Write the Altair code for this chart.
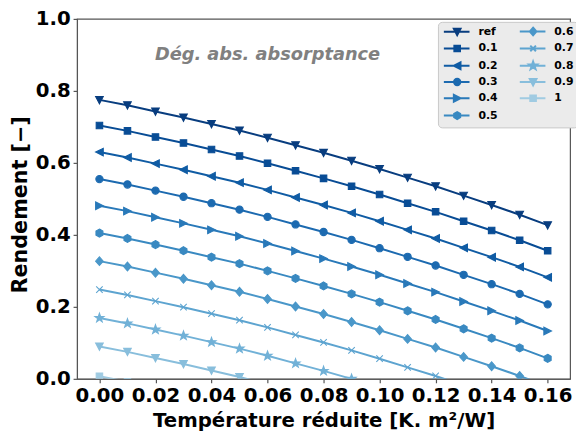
import altair as alt
import pandas as pd
import math

temp = [0.00, 0.01, 0.02, 0.03, 0.04, 0.05, 0.06, 0.07, 0.08, 0.09, 0.10, 0.11, 0.12, 0.13, 0.14, 0.15, 0.16]
series_names = ["ref", "0.1", "0.2", "0.3", "0.4", "0.5", "0.6", "0.7", "0.8", "0.9", "1"]

eta_ref = [0.775, 0.760, 0.743, 0.726, 0.708, 0.690, 0.670, 0.649, 0.628, 0.606, 0.583, 0.559, 0.535, 0.509, 0.483, 0.456, 0.427]
eta_01 = [0.704, 0.689, 0.672, 0.655, 0.637, 0.619, 0.599, 0.578, 0.557, 0.535, 0.512, 0.488, 0.464, 0.438, 0.412, 0.385, 0.356]
eta_02 = [0.630, 0.615, 0.598, 0.581, 0.563, 0.545, 0.525, 0.504, 0.483, 0.461, 0.438, 0.414, 0.390, 0.364, 0.338, 0.311, 0.282]
eta_03 = [0.555, 0.540, 0.523, 0.506, 0.488, 0.470, 0.450, 0.429, 0.408, 0.386, 0.363, 0.339, 0.315, 0.289, 0.263, 0.236, 0.207]
eta_04 = [0.481, 0.466, 0.449, 0.432, 0.414, 0.396, 0.376, 0.355, 0.334, 0.312, 0.289, 0.265, 0.241, 0.215, 0.189, 0.162, 0.133]
eta_05 = [0.405, 0.390, 0.373, 0.356, 0.338, 0.320, 0.300, 0.279, 0.258, 0.236, 0.213, 0.189, 0.165, 0.139, 0.113, 0.086, 0.057]
eta_06 = [0.327, 0.312, 0.295, 0.278, 0.260, 0.242, 0.222, 0.201, 0.180, 0.158, 0.135, 0.111, 0.087, 0.061, 0.035, 0.008, -0.021]
eta_07 = [0.248, 0.233, 0.216, 0.199, 0.181, 0.163, 0.143, 0.122, 0.101, 0.079, 0.056, 0.032, 0.008, -0.018, -0.044, -0.071, -0.100]
eta_08 = [0.169, 0.154, 0.137, 0.120, 0.102, 0.084, 0.064, 0.043, 0.022, 0.000, -0.023, -0.047, -0.071, -0.097, -0.123, -0.150, -0.179]
eta_09 = [0.090, 0.075, 0.058, 0.041, 0.023, 0.005, -0.015, -0.036, -0.057, -0.079, -0.102, -0.126, -0.150, -0.176, -0.202, -0.229, -0.258]
eta_10 = [0.007, -0.008, -0.025, -0.042, -0.060, -0.078, -0.098, -0.119, -0.140, -0.162, -0.185, -0.209, -0.233, -0.259, -0.285, -0.312, -0.341]

all_series = [eta_ref, eta_01, eta_02, eta_03, eta_04, eta_05, eta_06, eta_07, eta_08, eta_09, eta_10]

colors = ["#083d7f", "#084c95", "#105ca4", "#1c6ab0", "#2979b9", "#3989c1",
          "#4a97c9", "#5da4d0", "#71b1d7", "#88bedc", "#a0cbe2"]

x_ticks = [0.00, 0.02, 0.04, 0.06, 0.08, 0.10, 0.12, 0.14, 0.16]
y_ticks = [0.0, 0.2, 0.4, 0.6, 0.8, 1.0]

ann_text = ["Dég. abs. absorptance"]
ann_x = [0.06]
ann_y = [0.90]

rows = []
for name, vals in zip(series_names, all_series):
    for i, (t, v) in enumerate(zip(temp, vals)):
        rows.append({"series": name, "T": t, "eta": v, "idx": i})
df = pd.DataFrame(rows)
ann_df = pd.DataFrame({"text": ann_text, "x": ann_x, "y": ann_y})

# ---- marker geometry (unit coordinates) ----
def poly(points, dx=0.0, s=1.0):
    return "M" + "L".join(f"{x * s + dx:.3f},{y * s:.3f}" for x, y in points) + "Z"

def circle(dx=0.0, r=1.0):
    return f"M{dx - r:.3f},0A{r:.3f},{r:.3f},0,1,0,{dx + r:.3f},0A{r:.3f},{r:.3f},0,1,0,{dx - r:.3f},0Z"

def xmark(dx=0.0, r=1.0):
    return f"M{dx - r:.3f},{-r:.3f}L{dx + r:.3f},{r:.3f}M{dx - r:.3f},{r:.3f}L{dx + r:.3f},{-r:.3f}"

star_pts = []
for k in range(10):
    ang = -math.pi / 2 + k * math.pi / 5
    rad = 1.25 if k % 2 == 0 else 0.5
    star_pts.append((rad * math.cos(ang), rad * math.sin(ang)))

tri_down = [(-1.0, -0.9), (1.0, -0.9), (0.0, 1.0)]
square = [(-0.85, -0.85), (0.85, -0.85), (0.85, 0.85), (-0.85, 0.85)]
tri_left = [(1.0, -1.0), (1.0, 1.0), (-1.0, 0.0)]
tri_right = [(-1.0, -1.0), (-1.0, 1.0), (1.0, 0.0)]
hexagon = [(0, -1.05), (0.91, -0.525), (0.91, 0.525), (0, 1.05), (-0.91, 0.525), (-0.91, -0.525)]
diamond = [(0, -1.15), (1.0, 0), (0, 1.15), (-1.0, 0)]

def marker_path(kind, dx=0.0, s=1.0):
    if kind == "circle":
        return circle(dx, 0.95 * s)
    if kind == "x":
        return xmark(dx, 0.85 * s)
    geo = {"tri_down": tri_down, "square": square, "tri_left": tri_left,
           "tri_right": tri_right, "hexagon": hexagon, "diamond": diamond,
           "star": star_pts}[kind]
    return poly(geo, dx, s)

kinds = ["tri_down", "square", "tri_left", "circle", "tri_right", "hexagon",
         "diamond", "x", "star", "tri_down", "square"]

plot_shapes = [marker_path(k) for k in kinds]
legend_shapes = ["M-1.4,0L9,0" + marker_path(k, dx=4.0, s=1.35) for k in kinds]

names_arr = "[" + ",".join(f"'{n}'" for n in series_names) + "]"
shape_expr = "[" + ",".join(f"'{p}'" for p in legend_shapes) + "][indexof(" + names_arr + ", datum.value)]"

FONT = "DejaVu Sans"

leg = alt.Legend(
    title=None, orient="none", legendX=366, legendY=3, columns=2,
    symbolSize=25, symbolStrokeWidth=2, labelFont=FONT, labelFontWeight="bold",
    labelFontSize=11, labelColor="black", labelOffset=26, columnPadding=18,
    rowPadding=1.5, fillColor="#ebebeb", strokeColor="#c8c8c8", cornerRadius=4,
    padding=4, symbolOpacity=1,
    symbolType=alt.ExprRef(expr=shape_expr),
)

cscale = alt.Scale(domain=series_names, range=colors)
# shape scale listed in reverse order so its (hidden) legend is not merged with the colour legend
shape_scale = alt.Scale(domain=series_names[::-1], range=plot_shapes[::-1])
xscale = alt.Scale(domain=[-0.008, 0.168], nice=False, zero=False)
yscale = alt.Scale(domain=[0, 1], nice=False)

x_enc = alt.X("T:Q", scale=xscale,
              axis=alt.Axis(values=x_ticks, format=".2f", title="Température réduite [K. m²/W]",
                            labelFlush=False, titleFontSize=20))
y_enc = alt.Y("eta:Q", scale=yscale,
              axis=alt.Axis(values=y_ticks, format=".1f", title="Rendement [−]",
                            titleFontSize=21, titleY=188))

base = alt.Chart(df)

lines = base.mark_line(clip=True, strokeWidth=2).encode(
    x=x_enc, y=y_enc,
    color=alt.Color("series:N", scale=cscale, legend=leg, sort=series_names),
    order="idx:Q",
)

points = base.mark_point(filled=True, clip=True, size=60, strokeWidth=1.1, opacity=1).encode(
    x="T:Q", y="eta:Q",
    color=alt.Color("series:N", scale=cscale, legend=leg, sort=series_names),
    shape=alt.Shape("series:N", scale=shape_scale, legend=None),
    stroke=alt.Stroke("series:N", scale=cscale, legend=leg),
)

ann = alt.Chart(ann_df).mark_text(
    font=FONT, fontSize=18, fontWeight="bold", fontStyle="italic",
    color="#808080", align="center", baseline="middle",
).encode(x="x:Q", y="y:Q", text="text:N")

chart = alt.layer(lines, points, ann).properties(
    width=500, height=365,
    autosize=alt.AutoSizeParams(type="none"),
    padding={"left": 70, "top": 8, "right": 6, "bottom": 62},
).configure_view(
    stroke="#555555", strokeWidth=1.2
).configure_axis(
    domainColor="#555555", tickColor="#555555", tickSize=4, tickWidth=1.2,
    labelFont=FONT, labelFontWeight="bold", labelFontSize=20, labelColor="black",
    titleFont=FONT, titleFontWeight="bold", titleFontSize=20, titleColor="black",
    grid=False,
).configure_axisX(
    labelPadding=3, titlePadding=5,
).configure_axisY(
    labelPadding=3, titlePadding=5,
)

chart.save("out.html", embed_options={"renderer": "svg", "actions": False})
